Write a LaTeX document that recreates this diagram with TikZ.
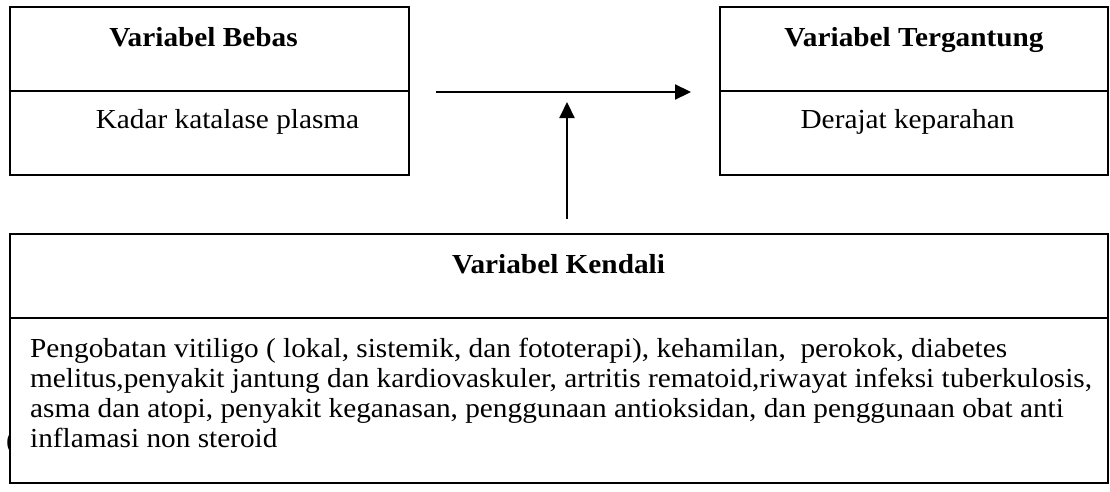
\documentclass[tikz,border=0pt]{standalone}
\usepackage{fontspec}
\setmainfont[FakeStretch=1.065]{Liberation Serif}
\usetikzlibrary{arrows.meta}
\begin{document}
\begin{tikzpicture}[x=1pt,y=1pt,
  box/.style={draw=black,line width=1.5pt,fill=white,rectangle,inner sep=0pt},
  divider/.style={draw=black,line width=1.5pt},
  title/.style={font=\fontsize{27.5}{30}\selectfont\bfseries,inner sep=0pt,anchor=base},
  body/.style={font=\fontsize{27.5}{30}\selectfont,inner sep=0pt,anchor=base},
  line/.style={font=\fontsize{27.5}{30}\selectfont,inner sep=0pt,anchor=base west},
  conn/.style={line width=2.2pt,-{Triangle[length=16pt,width=15pt]}}]
\useasboundingbox (0,0) rectangle (1110,-491);
% stray partially hidden glyph at the left of the bottom box
\node[line] (stray) at (6,-449) {(};
% boxes
\node[box,minimum width=399pt,minimum height=168pt] (bebas) at (209.5,-91) {};
\node[box,minimum width=388pt,minimum height=168pt] (tergantung) at (914,-91) {};
\node[box,minimum width=1098pt,minimum height=249pt] (kendali) at (559,-358.5) {};
\draw[divider] (bebas.west |- 0,-91) -- (bebas.east |- 0,-91);
\draw[divider] (tergantung.west |- 0,-91) -- (tergantung.east |- 0,-91);
\draw[divider] (kendali.west |- 0,-318) -- (kendali.east |- 0,-318);
% texts
\node[title] (tb) at (203.5,-46) {Variabel Bebas};
\node[body] (bb) at (227.5,-128) {Kadar katalase plasma};
\node[title] (tt) at (914,-46) {Variabel Tergantung};
\node[body] (bt) at (907.5,-128) {Derajat keparahan};
\node[title] (tk) at (558.5,-273) {Variabel Kendali};
\node[line] (k1) at (30,-357) {Pengobatan vitiligo ( lokal, sistemik, dan fototerapi), kehamilan, \ perokok, diabetes};
\node[line] (k2) at (30,-387) {melitus,penyakit jantung dan kardiovaskuler, artritis rematoid,riwayat infeksi tuberkulosis,};
\node[line] (k3) at (30,-417) {asma dan atopi, penyakit keganasan, penggunaan antioksidan, dan penggunaan obat anti};
\node[line] (k4) at (30,-447) {inflamasi non steroid};
% connectors
\coordinate (hs) at (436,-92);
\coordinate (he) at (691,-92);
\coordinate (vs) at (567,-219);
\coordinate (ve) at (567,-102);
\draw[conn] (hs) -- (he);
\draw[conn] (vs) -- (ve);
\end{tikzpicture}
\end{document}
